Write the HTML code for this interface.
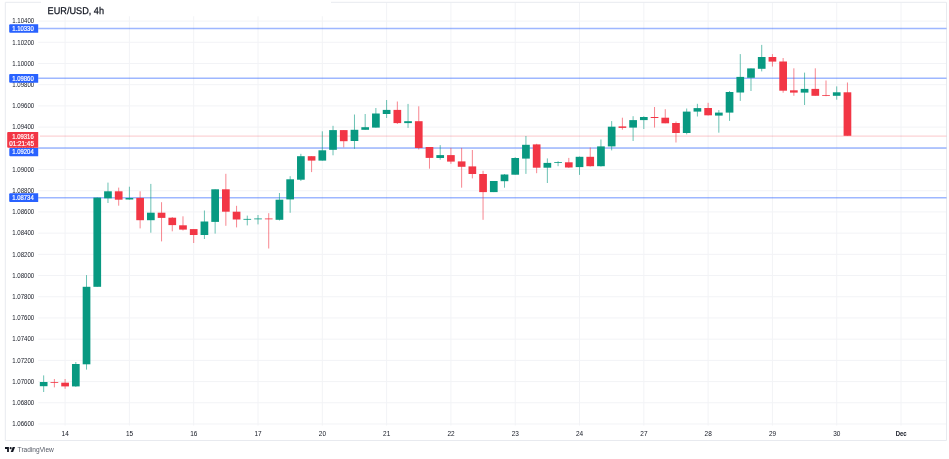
<!DOCTYPE html>
<html><head><meta charset="utf-8"><title>EUR/USD, 4h</title>
<style>
html,body{margin:0;padding:0;background:#fff;}
body{width:949px;height:459px;overflow:hidden;}
svg{display:block;font-family:"Liberation Sans",Arial,sans-serif;}
text{will-change:transform;}
.ax{font-size:6.9px;fill:#131722;}
.bx{font-size:6.9px;fill:#fff;stroke:#fff;stroke-width:0.2px;}
</style></head><body>
<svg width="949" height="459" viewBox="0 0 949 459">
<rect x="0" y="0" width="949" height="459" fill="#fff"/>

<g stroke="#f2f3f6" stroke-width="1" fill="none">
<line x1="38.2" y1="21.08" x2="946.5" y2="21.08"/>
<line x1="38.2" y1="42.29" x2="946.5" y2="42.29"/>
<line x1="38.2" y1="63.49" x2="946.5" y2="63.49"/>
<line x1="38.2" y1="84.7" x2="946.5" y2="84.7"/>
<line x1="38.2" y1="105.9" x2="946.5" y2="105.9"/>
<line x1="38.2" y1="127.11" x2="946.5" y2="127.11"/>
<line x1="38.2" y1="148.32" x2="946.5" y2="148.32"/>
<line x1="38.2" y1="169.52" x2="946.5" y2="169.52"/>
<line x1="38.2" y1="190.73" x2="946.5" y2="190.73"/>
<line x1="38.2" y1="211.93" x2="946.5" y2="211.93"/>
<line x1="38.2" y1="233.14" x2="946.5" y2="233.14"/>
<line x1="38.2" y1="254.35" x2="946.5" y2="254.35"/>
<line x1="38.2" y1="275.55" x2="946.5" y2="275.55"/>
<line x1="38.2" y1="296.76" x2="946.5" y2="296.76"/>
<line x1="38.2" y1="317.96" x2="946.5" y2="317.96"/>
<line x1="38.2" y1="339.17" x2="946.5" y2="339.17"/>
<line x1="38.2" y1="360.38" x2="946.5" y2="360.38"/>
<line x1="38.2" y1="381.58" x2="946.5" y2="381.58"/>
<line x1="38.2" y1="402.79" x2="946.5" y2="402.79"/>
<line x1="38.2" y1="423.99" x2="946.5" y2="423.99"/>
<line x1="65.1" y1="2.5" x2="65.1" y2="425.5"/>
<line x1="129.4" y1="2.5" x2="129.4" y2="425.5"/>
<line x1="193.7" y1="2.5" x2="193.7" y2="425.5"/>
<line x1="258.01" y1="2.5" x2="258.01" y2="425.5"/>
<line x1="322.31" y1="2.5" x2="322.31" y2="425.5"/>
<line x1="386.61" y1="2.5" x2="386.61" y2="425.5"/>
<line x1="450.91" y1="2.5" x2="450.91" y2="425.5"/>
<line x1="515.21" y1="2.5" x2="515.21" y2="425.5"/>
<line x1="579.52" y1="2.5" x2="579.52" y2="425.5"/>
<line x1="643.82" y1="2.5" x2="643.82" y2="425.5"/>
<line x1="708.12" y1="2.5" x2="708.12" y2="425.5"/>
<line x1="772.42" y1="2.5" x2="772.42" y2="425.5"/>
<line x1="836.72" y1="2.5" x2="836.72" y2="425.5"/>
<line x1="901.03" y1="2.5" x2="901.03" y2="425.5"/>
</g>
<g stroke="#e8eaef" stroke-width="1" fill="none">
<line x1="5.3" y1="2.3" x2="5.3" y2="440.5"/>
<line x1="5.3" y1="440.5" x2="946.5" y2="440.5"/>
<line x1="946.5" y1="2.3" x2="946.5" y2="440.5"/>
<line x1="5.3" y1="2.3" x2="41" y2="2.3"/>
<line x1="331" y1="2.3" x2="946.5" y2="2.3"/>
</g>
<line x1="38.2" y1="28.5" x2="946.5" y2="28.5" stroke="#2962ff" stroke-width="1.5" opacity="0.45"/>
<line x1="38.2" y1="78.34" x2="946.5" y2="78.34" stroke="#2962ff" stroke-width="1.5" opacity="0.45"/>
<line x1="38.2" y1="147.89" x2="946.5" y2="147.89" stroke="#2962ff" stroke-width="1.5" opacity="0.45"/>
<line x1="38.2" y1="197.73" x2="946.5" y2="197.73" stroke="#2962ff" stroke-width="1.5" opacity="0.45"/>
<line x1="40" y1="136.1" x2="946.5" y2="136.1" stroke="#F23645" stroke-width="1" opacity="0.28"/>
<line x1="43.67" y1="375.4" x2="43.67" y2="392" stroke="#089981" stroke-width="1" opacity="0.6"/>
<rect x="39.82" y="382" width="7.7" height="4.2" fill="#089981"/>
<line x1="54.38" y1="379" x2="54.38" y2="387.4" stroke="#F23645" stroke-width="1" opacity="0.6"/>
<rect x="50.53" y="382.2" width="7.7" height="0.8" fill="#F23645"/>
<line x1="65.1" y1="379" x2="65.1" y2="388.8" stroke="#F23645" stroke-width="1" opacity="0.6"/>
<rect x="61.25" y="382.7" width="7.7" height="3.7" fill="#F23645"/>
<line x1="75.82" y1="362" x2="75.82" y2="386.9" stroke="#089981" stroke-width="1" opacity="0.6"/>
<rect x="71.97" y="364" width="7.7" height="22.4" fill="#089981"/>
<line x1="86.53" y1="275.1" x2="86.53" y2="369.6" stroke="#089981" stroke-width="1" opacity="0.6"/>
<rect x="82.68" y="286.8" width="7.7" height="77.5" fill="#089981"/>
<line x1="97.25" y1="197.5" x2="97.25" y2="286.8" stroke="#089981" stroke-width="1" opacity="0.6"/>
<rect x="93.4" y="197.6" width="7.7" height="89.2" fill="#089981"/>
<line x1="107.97" y1="182.6" x2="107.97" y2="203" stroke="#089981" stroke-width="1" opacity="0.6"/>
<rect x="104.12" y="191.3" width="7.7" height="7" fill="#089981"/>
<line x1="118.69" y1="187.6" x2="118.69" y2="205.7" stroke="#F23645" stroke-width="1" opacity="0.6"/>
<rect x="114.84" y="191.3" width="7.7" height="8.4" fill="#F23645"/>
<line x1="129.4" y1="186.7" x2="129.4" y2="199.6" stroke="#089981" stroke-width="1" opacity="0.6"/>
<rect x="125.55" y="198" width="7.7" height="1.5" fill="#089981"/>
<line x1="140.12" y1="191.3" x2="140.12" y2="228.4" stroke="#F23645" stroke-width="1" opacity="0.6"/>
<rect x="136.27" y="197.9" width="7.7" height="22.3" fill="#F23645"/>
<line x1="150.84" y1="183.9" x2="150.84" y2="232.7" stroke="#089981" stroke-width="1" opacity="0.6"/>
<rect x="146.99" y="212.7" width="7.7" height="7.5" fill="#089981"/>
<line x1="161.55" y1="202.2" x2="161.55" y2="241.4" stroke="#F23645" stroke-width="1" opacity="0.6"/>
<rect x="157.7" y="212.7" width="7.7" height="5.2" fill="#F23645"/>
<line x1="172.27" y1="217" x2="172.27" y2="231.3" stroke="#F23645" stroke-width="1" opacity="0.6"/>
<rect x="168.42" y="217.7" width="7.7" height="7.4" fill="#F23645"/>
<line x1="182.99" y1="216.3" x2="182.99" y2="230.5" stroke="#F23645" stroke-width="1" opacity="0.6"/>
<rect x="179.14" y="225.3" width="7.7" height="4.3" fill="#F23645"/>
<line x1="193.7" y1="229.1" x2="193.7" y2="243" stroke="#F23645" stroke-width="1" opacity="0.6"/>
<rect x="189.85" y="229.1" width="7.7" height="5.9" fill="#F23645"/>
<line x1="204.42" y1="210.5" x2="204.42" y2="239" stroke="#089981" stroke-width="1" opacity="0.6"/>
<rect x="200.57" y="221.5" width="7.7" height="13.5" fill="#089981"/>
<line x1="215.14" y1="189.3" x2="215.14" y2="233.6" stroke="#089981" stroke-width="1" opacity="0.6"/>
<rect x="211.29" y="189.3" width="7.7" height="32.6" fill="#089981"/>
<line x1="225.85" y1="173.8" x2="225.85" y2="225.8" stroke="#F23645" stroke-width="1" opacity="0.6"/>
<rect x="222" y="189.3" width="7.7" height="22.4" fill="#F23645"/>
<line x1="236.57" y1="205.8" x2="236.57" y2="227.4" stroke="#F23645" stroke-width="1" opacity="0.6"/>
<rect x="232.72" y="211.7" width="7.7" height="7.8" fill="#F23645"/>
<line x1="247.29" y1="215.6" x2="247.29" y2="225.4" stroke="#089981" stroke-width="1" opacity="0.6"/>
<rect x="243.44" y="218.9" width="7.7" height="0.8" fill="#089981"/>
<line x1="258.01" y1="215" x2="258.01" y2="224.4" stroke="#089981" stroke-width="1" opacity="0.6"/>
<rect x="254.16" y="218.5" width="7.7" height="0.8" fill="#089981"/>
<line x1="268.72" y1="213.2" x2="268.72" y2="248.5" stroke="#F23645" stroke-width="1" opacity="0.6"/>
<rect x="264.87" y="218.5" width="7.7" height="0.8" fill="#F23645"/>
<line x1="279.44" y1="193" x2="279.44" y2="220.5" stroke="#089981" stroke-width="1" opacity="0.6"/>
<rect x="275.59" y="199.7" width="7.7" height="20.1" fill="#089981"/>
<line x1="290.16" y1="176.2" x2="290.16" y2="212.8" stroke="#089981" stroke-width="1" opacity="0.6"/>
<rect x="286.31" y="179.3" width="7.7" height="20.1" fill="#089981"/>
<line x1="300.87" y1="153.8" x2="300.87" y2="181" stroke="#089981" stroke-width="1" opacity="0.6"/>
<rect x="297.02" y="156.2" width="7.7" height="23.5" fill="#089981"/>
<line x1="311.59" y1="156.2" x2="311.59" y2="172.1" stroke="#F23645" stroke-width="1" opacity="0.6"/>
<rect x="307.74" y="156.2" width="7.7" height="4.4" fill="#F23645"/>
<line x1="322.31" y1="131.3" x2="322.31" y2="160.6" stroke="#089981" stroke-width="1" opacity="0.6"/>
<rect x="318.46" y="150.3" width="7.7" height="10.3" fill="#089981"/>
<line x1="333.02" y1="125.8" x2="333.02" y2="155.3" stroke="#089981" stroke-width="1" opacity="0.6"/>
<rect x="329.17" y="130.1" width="7.7" height="19.7" fill="#089981"/>
<line x1="343.74" y1="130.1" x2="343.74" y2="147.4" stroke="#F23645" stroke-width="1" opacity="0.6"/>
<rect x="339.89" y="130.1" width="7.7" height="11.1" fill="#F23645"/>
<line x1="354.46" y1="114.5" x2="354.46" y2="148.8" stroke="#089981" stroke-width="1" opacity="0.6"/>
<rect x="350.61" y="129.8" width="7.7" height="11.2" fill="#089981"/>
<line x1="365.18" y1="114" x2="365.18" y2="129.8" stroke="#089981" stroke-width="1" opacity="0.6"/>
<rect x="361.33" y="127.2" width="7.7" height="2.6" fill="#089981"/>
<line x1="375.89" y1="108" x2="375.89" y2="127.6" stroke="#089981" stroke-width="1" opacity="0.6"/>
<rect x="372.04" y="113.5" width="7.7" height="14.1" fill="#089981"/>
<line x1="386.61" y1="100" x2="386.61" y2="118" stroke="#089981" stroke-width="1" opacity="0.6"/>
<rect x="382.76" y="109.9" width="7.7" height="4.1" fill="#089981"/>
<line x1="397.33" y1="101.5" x2="397.33" y2="124" stroke="#F23645" stroke-width="1" opacity="0.6"/>
<rect x="393.48" y="109.9" width="7.7" height="13.2" fill="#F23645"/>
<line x1="408.04" y1="103.9" x2="408.04" y2="127.9" stroke="#089981" stroke-width="1" opacity="0.6"/>
<rect x="404.19" y="121.2" width="7.7" height="1.9" fill="#089981"/>
<line x1="418.76" y1="106.3" x2="418.76" y2="149.5" stroke="#F23645" stroke-width="1" opacity="0.6"/>
<rect x="414.91" y="121.2" width="7.7" height="26.8" fill="#F23645"/>
<line x1="429.48" y1="147" x2="429.48" y2="168.7" stroke="#F23645" stroke-width="1" opacity="0.6"/>
<rect x="425.63" y="147" width="7.7" height="10.9" fill="#F23645"/>
<line x1="440.2" y1="145.1" x2="440.2" y2="159.7" stroke="#089981" stroke-width="1" opacity="0.6"/>
<rect x="436.35" y="155.1" width="7.7" height="2.9" fill="#089981"/>
<line x1="450.91" y1="147.9" x2="450.91" y2="163.8" stroke="#F23645" stroke-width="1" opacity="0.6"/>
<rect x="447.06" y="155.1" width="7.7" height="6.5" fill="#F23645"/>
<line x1="461.63" y1="147.9" x2="461.63" y2="187.7" stroke="#F23645" stroke-width="1" opacity="0.6"/>
<rect x="457.78" y="161.4" width="7.7" height="5.4" fill="#F23645"/>
<line x1="472.35" y1="150" x2="472.35" y2="178.4" stroke="#F23645" stroke-width="1" opacity="0.6"/>
<rect x="468.5" y="166.4" width="7.7" height="7.6" fill="#F23645"/>
<line x1="483.06" y1="170.8" x2="483.06" y2="219.8" stroke="#F23645" stroke-width="1" opacity="0.6"/>
<rect x="479.21" y="174" width="7.7" height="18.1" fill="#F23645"/>
<line x1="493.78" y1="181" x2="493.78" y2="192.1" stroke="#089981" stroke-width="1" opacity="0.6"/>
<rect x="489.93" y="181" width="7.7" height="11.1" fill="#089981"/>
<line x1="504.5" y1="174" x2="504.5" y2="187.7" stroke="#089981" stroke-width="1" opacity="0.6"/>
<rect x="500.65" y="174.5" width="7.7" height="6.7" fill="#089981"/>
<line x1="515.21" y1="157.2" x2="515.21" y2="174.7" stroke="#089981" stroke-width="1" opacity="0.6"/>
<rect x="511.36" y="158" width="7.7" height="16.7" fill="#089981"/>
<line x1="525.93" y1="136" x2="525.93" y2="173.9" stroke="#089981" stroke-width="1" opacity="0.6"/>
<rect x="522.08" y="144.8" width="7.7" height="13.8" fill="#089981"/>
<line x1="536.65" y1="143.8" x2="536.65" y2="173.2" stroke="#F23645" stroke-width="1" opacity="0.6"/>
<rect x="532.8" y="144.4" width="7.7" height="23.3" fill="#F23645"/>
<line x1="547.37" y1="158.4" x2="547.37" y2="183" stroke="#089981" stroke-width="1" opacity="0.6"/>
<rect x="543.51" y="162.9" width="7.7" height="4.8" fill="#089981"/>
<line x1="558.08" y1="161.2" x2="558.08" y2="166.2" stroke="#089981" stroke-width="1" opacity="0.6"/>
<rect x="554.23" y="162.1" width="7.7" height="0.8" fill="#089981"/>
<line x1="568.8" y1="157.9" x2="568.8" y2="168" stroke="#F23645" stroke-width="1" opacity="0.6"/>
<rect x="564.95" y="162.3" width="7.7" height="5.2" fill="#F23645"/>
<line x1="579.52" y1="156.5" x2="579.52" y2="174.9" stroke="#089981" stroke-width="1" opacity="0.6"/>
<rect x="575.67" y="156.8" width="7.7" height="10.3" fill="#089981"/>
<line x1="590.23" y1="147.5" x2="590.23" y2="166.6" stroke="#F23645" stroke-width="1" opacity="0.6"/>
<rect x="586.38" y="156.8" width="7.7" height="9.4" fill="#F23645"/>
<line x1="600.95" y1="139.5" x2="600.95" y2="166.6" stroke="#089981" stroke-width="1" opacity="0.6"/>
<rect x="597.1" y="146.4" width="7.7" height="19.8" fill="#089981"/>
<line x1="611.67" y1="121.1" x2="611.67" y2="150.4" stroke="#089981" stroke-width="1" opacity="0.6"/>
<rect x="607.82" y="126.7" width="7.7" height="19.7" fill="#089981"/>
<line x1="622.38" y1="117.7" x2="622.38" y2="129.7" stroke="#F23645" stroke-width="1" opacity="0.6"/>
<rect x="618.53" y="126.4" width="7.7" height="1.5" fill="#F23645"/>
<line x1="633.1" y1="116.2" x2="633.1" y2="141" stroke="#089981" stroke-width="1" opacity="0.6"/>
<rect x="629.25" y="120.1" width="7.7" height="7.5" fill="#089981"/>
<line x1="643.82" y1="116.2" x2="643.82" y2="129" stroke="#089981" stroke-width="1" opacity="0.6"/>
<rect x="639.97" y="117" width="7.7" height="3.1" fill="#089981"/>
<line x1="654.54" y1="107" x2="654.54" y2="127.6" stroke="#F23645" stroke-width="1" opacity="0.6"/>
<rect x="650.69" y="117" width="7.7" height="1" fill="#F23645"/>
<line x1="665.25" y1="109.2" x2="665.25" y2="123.3" stroke="#F23645" stroke-width="1" opacity="0.6"/>
<rect x="661.4" y="117.7" width="7.7" height="5.6" fill="#F23645"/>
<line x1="675.97" y1="121.5" x2="675.97" y2="142.5" stroke="#F23645" stroke-width="1" opacity="0.6"/>
<rect x="672.12" y="123" width="7.7" height="10" fill="#F23645"/>
<line x1="686.69" y1="108.5" x2="686.69" y2="134.4" stroke="#089981" stroke-width="1" opacity="0.6"/>
<rect x="682.84" y="111.6" width="7.7" height="21.4" fill="#089981"/>
<line x1="697.4" y1="103.8" x2="697.4" y2="116.5" stroke="#089981" stroke-width="1" opacity="0.6"/>
<rect x="693.55" y="108.1" width="7.7" height="3.5" fill="#089981"/>
<line x1="708.12" y1="102.8" x2="708.12" y2="115.5" stroke="#F23645" stroke-width="1" opacity="0.6"/>
<rect x="704.27" y="108" width="7.7" height="7.3" fill="#F23645"/>
<line x1="718.84" y1="110.1" x2="718.84" y2="132.7" stroke="#089981" stroke-width="1" opacity="0.6"/>
<rect x="714.99" y="112.6" width="7.7" height="3" fill="#089981"/>
<line x1="729.55" y1="91" x2="729.55" y2="120.9" stroke="#089981" stroke-width="1" opacity="0.6"/>
<rect x="725.7" y="92" width="7.7" height="20.6" fill="#089981"/>
<line x1="740.27" y1="54.1" x2="740.27" y2="100.9" stroke="#089981" stroke-width="1" opacity="0.6"/>
<rect x="736.42" y="76.9" width="7.7" height="15.6" fill="#089981"/>
<line x1="750.99" y1="68.4" x2="750.99" y2="91" stroke="#089981" stroke-width="1" opacity="0.6"/>
<rect x="747.14" y="68.4" width="7.7" height="9.4" fill="#089981"/>
<line x1="761.71" y1="44.9" x2="761.71" y2="71.4" stroke="#089981" stroke-width="1" opacity="0.6"/>
<rect x="757.86" y="57" width="7.7" height="11.8" fill="#089981"/>
<line x1="772.42" y1="54.1" x2="772.42" y2="66.6" stroke="#F23645" stroke-width="1" opacity="0.6"/>
<rect x="768.57" y="57" width="7.7" height="4.6" fill="#F23645"/>
<line x1="783.14" y1="58" x2="783.14" y2="92.7" stroke="#F23645" stroke-width="1" opacity="0.6"/>
<rect x="779.29" y="61.5" width="7.7" height="29.2" fill="#F23645"/>
<line x1="793.86" y1="68.3" x2="793.86" y2="95.8" stroke="#F23645" stroke-width="1" opacity="0.6"/>
<rect x="790.01" y="90.3" width="7.7" height="2.3" fill="#F23645"/>
<line x1="804.57" y1="72.6" x2="804.57" y2="105" stroke="#089981" stroke-width="1" opacity="0.6"/>
<rect x="800.72" y="88.9" width="7.7" height="3.7" fill="#089981"/>
<line x1="815.29" y1="68.3" x2="815.29" y2="95.8" stroke="#F23645" stroke-width="1" opacity="0.6"/>
<rect x="811.44" y="88.9" width="7.7" height="6.9" fill="#F23645"/>
<line x1="826.01" y1="80.5" x2="826.01" y2="96.2" stroke="#F23645" stroke-width="1" opacity="0.6"/>
<rect x="822.16" y="95" width="7.7" height="0.8" fill="#F23645"/>
<line x1="836.72" y1="86.4" x2="836.72" y2="99.7" stroke="#089981" stroke-width="1" opacity="0.6"/>
<rect x="832.87" y="92.3" width="7.7" height="3.5" fill="#089981"/>
<line x1="847.44" y1="82.5" x2="847.44" y2="135.8" stroke="#F23645" stroke-width="1" opacity="0.6"/>
<rect x="843.59" y="92.3" width="7.7" height="43.5" fill="#F23645"/>
<text class="ax" x="12.3" y="23" textLength="21.9" lengthAdjust="spacingAndGlyphs">1.10400</text>
<text class="ax" x="12.3" y="45" textLength="21.9" lengthAdjust="spacingAndGlyphs">1.10200</text>
<text class="ax" x="12.3" y="66" textLength="21.9" lengthAdjust="spacingAndGlyphs">1.10000</text>
<text class="ax" x="12.3" y="87" textLength="21.9" lengthAdjust="spacingAndGlyphs">1.09800</text>
<text class="ax" x="12.3" y="108" textLength="21.9" lengthAdjust="spacingAndGlyphs">1.09600</text>
<text class="ax" x="12.3" y="129" textLength="21.9" lengthAdjust="spacingAndGlyphs">1.09400</text>
<text class="ax" x="12.3" y="151" textLength="21.9" lengthAdjust="spacingAndGlyphs">1.09200</text>
<text class="ax" x="12.3" y="172" textLength="21.9" lengthAdjust="spacingAndGlyphs">1.09000</text>
<text class="ax" x="12.3" y="193" textLength="21.9" lengthAdjust="spacingAndGlyphs">1.08800</text>
<text class="ax" x="12.3" y="214" textLength="21.9" lengthAdjust="spacingAndGlyphs">1.08600</text>
<text class="ax" x="12.3" y="235" textLength="21.9" lengthAdjust="spacingAndGlyphs">1.08400</text>
<text class="ax" x="12.3" y="257" textLength="21.9" lengthAdjust="spacingAndGlyphs">1.08200</text>
<text class="ax" x="12.3" y="278" textLength="21.9" lengthAdjust="spacingAndGlyphs">1.08000</text>
<text class="ax" x="12.3" y="299" textLength="21.9" lengthAdjust="spacingAndGlyphs">1.07800</text>
<text class="ax" x="12.3" y="320" textLength="21.9" lengthAdjust="spacingAndGlyphs">1.07600</text>
<text class="ax" x="12.3" y="341" textLength="21.9" lengthAdjust="spacingAndGlyphs">1.07400</text>
<text class="ax" x="12.3" y="363" textLength="21.9" lengthAdjust="spacingAndGlyphs">1.07200</text>
<text class="ax" x="12.3" y="384" textLength="21.9" lengthAdjust="spacingAndGlyphs">1.07000</text>
<text class="ax" x="12.3" y="405" textLength="21.9" lengthAdjust="spacingAndGlyphs">1.06800</text>
<text class="ax" x="12.3" y="426" textLength="21.9" lengthAdjust="spacingAndGlyphs">1.06600</text>
<text class="ax" x="61.6" y="436" textLength="7.2" lengthAdjust="spacingAndGlyphs">14</text>
<text class="ax" x="125.9" y="436" textLength="7.2" lengthAdjust="spacingAndGlyphs">15</text>
<text class="ax" x="190.2" y="436" textLength="7.2" lengthAdjust="spacingAndGlyphs">16</text>
<text class="ax" x="254.51" y="436" textLength="7.2" lengthAdjust="spacingAndGlyphs">17</text>
<text class="ax" x="318.81" y="436" textLength="7.2" lengthAdjust="spacingAndGlyphs">20</text>
<text class="ax" x="383.11" y="436" textLength="7.2" lengthAdjust="spacingAndGlyphs">21</text>
<text class="ax" x="447.41" y="436" textLength="7.2" lengthAdjust="spacingAndGlyphs">22</text>
<text class="ax" x="511.71" y="436" textLength="7.2" lengthAdjust="spacingAndGlyphs">23</text>
<text class="ax" x="576.02" y="436" textLength="7.2" lengthAdjust="spacingAndGlyphs">24</text>
<text class="ax" x="640.32" y="436" textLength="7.2" lengthAdjust="spacingAndGlyphs">27</text>
<text class="ax" x="704.62" y="436" textLength="7.2" lengthAdjust="spacingAndGlyphs">28</text>
<text class="ax" x="768.92" y="436" textLength="7.2" lengthAdjust="spacingAndGlyphs">29</text>
<text class="ax" x="833.22" y="436" textLength="7.2" lengthAdjust="spacingAndGlyphs">30</text>
<text class="ax" x="895.63" y="436" font-weight="bold" textLength="11" lengthAdjust="spacingAndGlyphs">Dec</text>
<path d="M10.2 24.2 H38.2 V32.8 H10.2 Q9.2 32.8 9.2 31.8 V25.2 Q9.2 24.2 10.2 24.2 Z" fill="#2962ff"/>
<text class="bx" x="12.3" y="31" textLength="21.4" lengthAdjust="spacingAndGlyphs">1.10330</text>
<path d="M10.2 74.1 H38.2 V82.7 H10.2 Q9.2 82.7 9.2 81.7 V75.1 Q9.2 74.1 10.2 74.1 Z" fill="#2962ff"/>
<text class="bx" x="12.3" y="81" textLength="21.4" lengthAdjust="spacingAndGlyphs">1.09860</text>
<path d="M10.3 147.9 H38.2 V156.3 H10.3 Q9.3 156.3 9.3 155.3 V148.9 Q9.3 147.9 10.3 147.9 Z" fill="#2962ff"/>
<text class="bx" x="12.3" y="154" textLength="21.4" lengthAdjust="spacingAndGlyphs">1.09204</text>
<path d="M10.2 193.3 H38.2 V202.1 H10.2 Q9.2 202.1 9.2 201.1 V194.3 Q9.2 193.3 10.2 193.3 Z" fill="#2962ff"/>
<text class="bx" x="12.3" y="200" textLength="21.4" lengthAdjust="spacingAndGlyphs">1.08734</text>
<path d="M8.2 132 H38.2 V147.7 H8.2 Q7.2 147.7 7.2 146.7 V133 Q7.2 132 8.2 132 Z" fill="#F23645"/>
<text class="bx" x="12.3" y="139" textLength="21.4" lengthAdjust="spacingAndGlyphs">1.09316</text>
<text class="bx" x="9.3" y="146" textLength="24.6" lengthAdjust="spacingAndGlyphs">01:21:45</text>
<rect x="41" y="0" width="290" height="16.3" fill="#fff"/>
<text x="47.6" y="14.3" font-size="9.8" textLength="56.4" lengthAdjust="spacingAndGlyphs" fill="#131722" stroke="#131722" stroke-width="0.25" text-rendering="geometricPrecision">EUR/USD, 4h</text>
<g fill="#131722"><path d="M5 447h3.9v4.9h-1.8v-2.9h-2.1z"/><circle cx="10.65" cy="448.15" r="1.05"/><path d="M12.7 447h2.4l-2 4.9h-2.4z"/></g>
<text x="17.6" y="452.1" font-size="6.6" fill="#555a66">TradingView</text>
</svg>
</body></html>
